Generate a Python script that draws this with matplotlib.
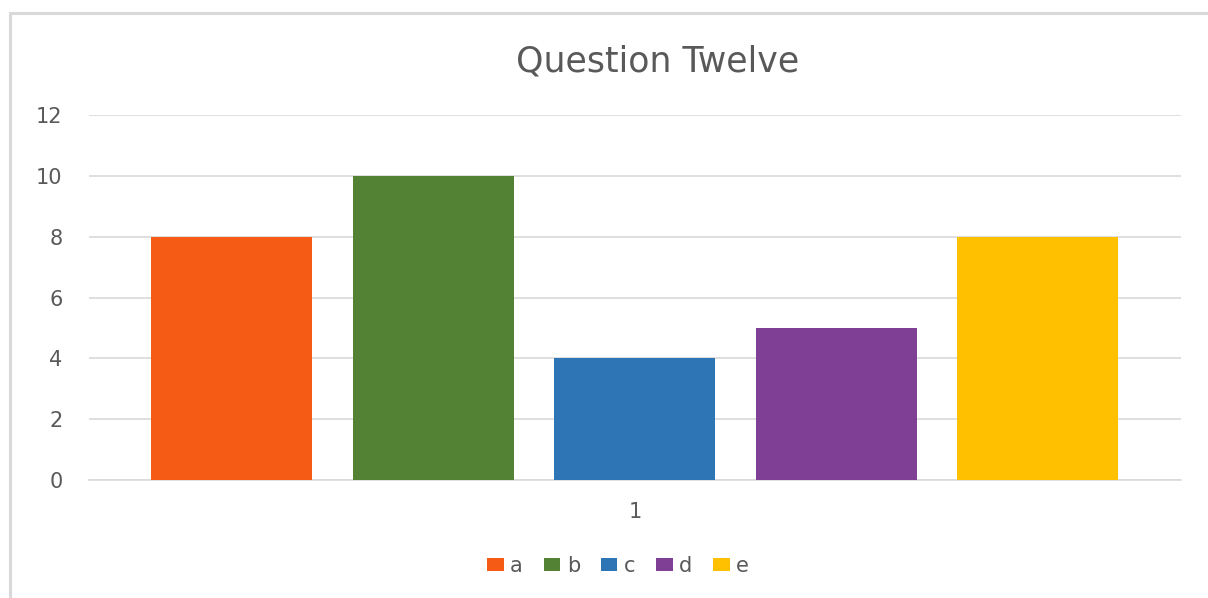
import matplotlib
matplotlib.use("Agg")
import matplotlib.pyplot as plt
from matplotlib.patches import Rectangle

plt.rcParams['font.family'] = ['DejaVu Sans']

categories = ['1']
series = ['a', 'b', 'c', 'd', 'e']
values = [8, 10, 4, 5, 8]
colors = ['#F55B14', '#548235', '#2E75B6', '#7F3F94', '#FFC000']
yticks = [0, 2, 4, 6, 8, 10, 12]

W, H = 1208, 598
fig = plt.figure(figsize=(W / 100, H / 100), dpi=100)
fig.patch.set_facecolor('white')

# chart border (Excel chart area)
fig.patches.append(Rectangle((10 / W, -0.1), 1.2, (H - 13) / H + 0.1,
                             transform=fig.transFigure, fill=False,
                             edgecolor='#D9D9D9', linewidth=2.2, zorder=0))

ax = fig.add_axes([89 / W, 1 - 480 / H, (1181 - 89) / W, (480 - 115) / H])
ax.set_facecolor('none')

bw = 161 / 1092
step = 201.5 / 1092
start = (151 - 89) / 1092 - 0.5
for i, (s, v, c) in enumerate(zip(series, values, colors)):
    ax.bar(start + i * step, v, width=bw, align='edge', color=c, label=s, zorder=3)

ax.set_xlim(-0.5, 0.5)
ax.set_ylim(0, 12)
ax.set_yticks(yticks)
ax.set_xticks([0])
ax.set_xticklabels(categories)
ax.grid(axis='y', color='#D9D9D9', linewidth=1.2, zorder=0)
for sp in ['top', 'right', 'left']:
    ax.spines[sp].set_visible(False)
ax.spines['bottom'].set_color('#D9D9D9')
ax.spines['bottom'].set_linewidth(1.2)
ax.tick_params(axis='both', length=0, labelsize=15, labelcolor='#595959')
ax.tick_params(axis='y', pad=19)
ax.tick_params(axis='x', pad=16)

fig.text(658 / W, 1 - 62 / H, 'Question Twelve', ha='center', va='center',
         fontsize=25, color='#595959')

leg = fig.legend(loc='center', bbox_to_anchor=(618 / W, 1 - 566 / H), ncol=5,
                 frameon=False, fontsize=15, handlelength=0.8, handleheight=0.6,
                 handletextpad=0.3, columnspacing=1.0, labelcolor='#595959')

fig.savefig('out.png', dpi=100, facecolor='white')
